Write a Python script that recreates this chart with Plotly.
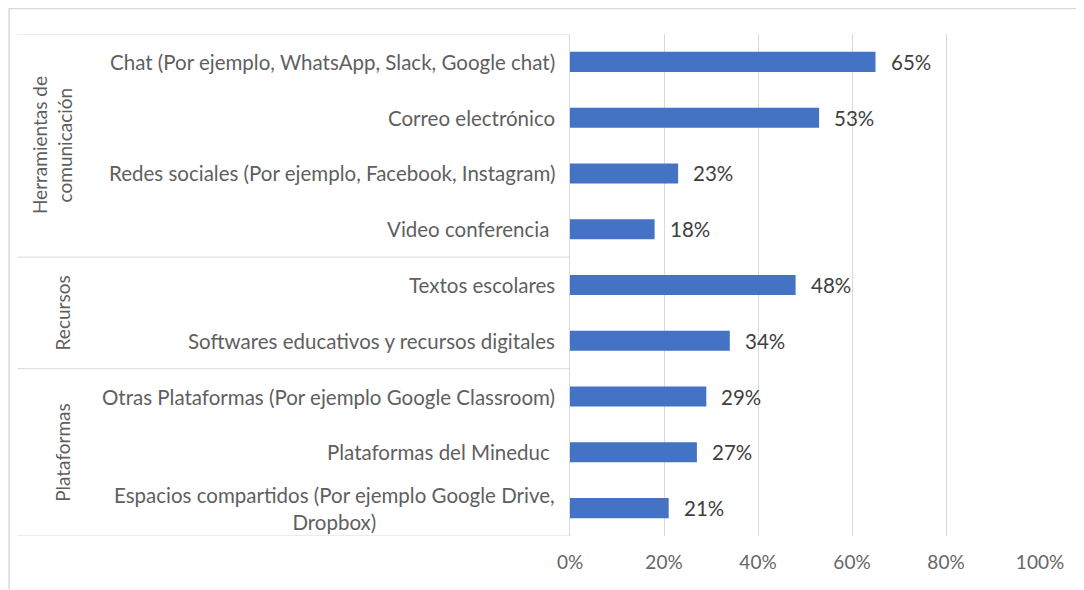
import plotly.graph_objects as go

# datos
categorias = [
    "Chat (Por ejemplo, WhatsApp, Slack, Google chat)",
    "Correo electrónico",
    "Redes sociales (Por ejemplo, Facebook, Instagram)",
    "Video conferencia\u00a0",
    "Textos escolares",
    "Softwares educativos y recursos digitales",
    "Otras Plataformas (Por ejemplo Google Classroom)",
    "Plataformas del Mineduc\u00a0",
    "Espacios compartidos (Por ejemplo Google Drive,<br>Dropbox)",
]
valores = [0.65, 0.53, 0.23, 0.18, 0.48, 0.34, 0.29, 0.27, 0.21]
grupos = ["Herramientas de<br>comunicación", "Recursos", "Plataformas"]
tamanos_grupo = [4, 2, 3]
ticks_x = [0, 0.2, 0.4, 0.6, 0.8, 1.0]
ticks_x_texto = ["0%", "20%", "40%", "60%", "80%", "100%"]

# la página tiene 8px de margen en el body
OFF = 8
W, H = 1084 - OFF, 590 - OFF
L, T = 570 - OFF, 34 - OFF
R = W - (1040.5 - OFF)
B = H - (536.5 - OFF)
FONT = "Lato"
GRIS = "#d9d9d9"


def px_x(px):
    """pixel de la página -> coordenada paper en x"""
    return (px - OFF - L) / (W - L - R)


def px_y(py):
    """pixel de la página -> coordenada paper en y"""
    return (H - B - (py - OFF)) / (H - T - B)


ids = list(range(len(categorias)))

fig = go.Figure()

fig.add_trace(
    go.Bar(
        x=valores,
        y=ids,
        orientation="h",
        marker=dict(color="#4472C4", line=dict(width=0)),
        width=0.36,
        hoverinfo="x",
    )
)

annotations = []
shapes = []

# etiquetas de categoria
for i, cat in enumerate(categorias):
    annotations.append(
        dict(
            x=0, xref="paper", y=i, yref="y",
            text=cat, showarrow=False,
            xanchor="right", yanchor="middle", align="center",
            xshift=-13,
            font=dict(family=FONT, size=20.5, color="#5f5f5f"),
        )
    )

# etiquetas de datos
for i, v in enumerate(valores):
    annotations.append(
        dict(
            x=v, xref="x", y=i, yref="y",
            text=f"{v:.0%}", showarrow=False,
            xanchor="left", yanchor="middle",
            xshift=13,
            font=dict(family=FONT, size=20.5, color="#404040"),
        )
    )

# grupos y separadores
inicio = 0
shapes.append(dict(type="line", xref="paper", yref="y", x0=px_x(17), x1=0,
                   y0=-0.5, y1=-0.5, line=dict(color=GRIS, width=1)))
for g, n in zip(grupos, tamanos_grupo):
    fin = inicio + n
    centro = (inicio + fin - 1) / 2
    gx = 51 if "<br>" in g else 62
    annotations.append(
        dict(
            x=px_x(gx), xref="paper", y=centro, yref="y",
            text=g, showarrow=False, textangle=-90,
            xanchor="center", yanchor="middle", align="center",
            font=dict(family=FONT, size=19, color="#5f5f5f"),
        )
    )
    shapes.append(dict(type="line", xref="paper", yref="y", x0=px_x(17), x1=0,
                       y0=fin - 0.5, y1=fin - 0.5, line=dict(color=GRIS, width=1)))
    inicio = fin

# borde exterior (solo se ven arriba e izquierda)
shapes.append(dict(type="line", xref="paper", yref="paper",
                   x0=px_x(OFF + 0.5), x1=px_x(1084), y0=px_y(OFF + 0.5), y1=px_y(OFF + 0.5),
                   line=dict(color=GRIS, width=1.5)))
shapes.append(dict(type="line", xref="paper", yref="paper",
                   x0=px_x(OFF + 0.5), x1=px_x(OFF + 0.5), y0=px_y(OFF + 0.5), y1=px_y(590),
                   line=dict(color=GRIS, width=1.5)))

fig.update_layout(
    width=W,
    height=H,
    margin=dict(l=L, r=R, t=T, b=B),
    plot_bgcolor="white",
    paper_bgcolor="white",
    showlegend=False,
    annotations=annotations,
    shapes=shapes,
    font=dict(family=FONT, size=19, color="#595959"),
)

fig.update_xaxes(
    range=[0, 1],
    tickvals=ticks_x,
    ticktext=ticks_x_texto,
    showgrid=True,
    gridcolor=GRIS,
    gridwidth=1,
    zeroline=False,
    showline=False,
    ticklabelstandoff=13,
    tickfont=dict(family=FONT, size=19, color="#666666"),
)

fig.update_yaxes(
    range=[len(categorias) - 0.5, -0.5],
    showticklabels=False,
    showgrid=False,
    zeroline=False,
    showline=True,
    linecolor=GRIS,
    linewidth=1,
)

fig.write_html("out.html")
